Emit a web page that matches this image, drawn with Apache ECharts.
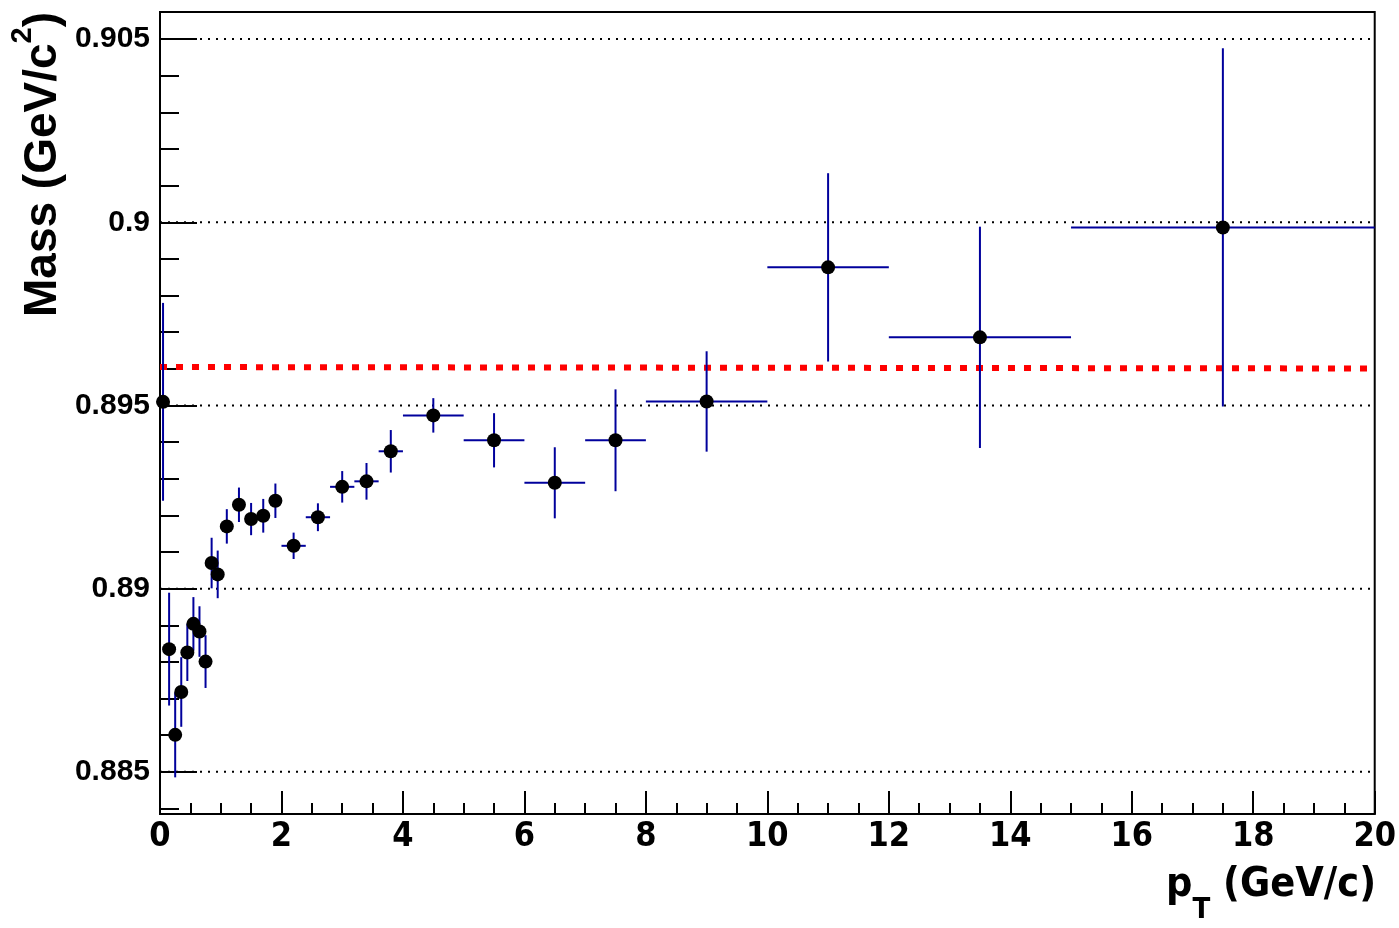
<!DOCTYPE html>
<html>
<head>
<meta charset="utf-8">
<script src="https://cdn.jsdelivr.net/npm/echarts@6/dist/echarts.min.js"></script>
<style>
html,body{margin:0;padding:0;background:#fff;}
#chart{width:1399px;height:928px;}
</style>
</head>
<body>
<div id="chart"></div>
<script>
// ---- data ----
const ptCenter = [0.05,0.15,0.25,0.35,0.45,0.55,0.65,0.75,0.85,0.95,1.1,1.3,1.5,1.7,1.9,2.2,2.6,3.0,3.4,3.8,4.5,5.5,6.5,7.5,9,11,13.5,17.5];
const binLow   = [0,0.1,0.2,0.3,0.4,0.5,0.6,0.7,0.8,0.9,1.0,1.2,1.4,1.6,1.8,2.0,2.4,2.8,3.2,3.6,4,5,6,7,8,10,12,15];
const binHigh  = [0.1,0.2,0.3,0.4,0.5,0.6,0.7,0.8,0.9,1.0,1.2,1.4,1.6,1.8,2.0,2.4,2.8,3.2,3.6,4.0,5,6,7,8,10,12,15,20];
const mass     = [0.8951,0.88835,0.88601,0.88718,0.88826,0.88904,0.88883,0.88801,0.89070,0.89039,0.89170,0.89229,0.89190,0.89199,0.89240,0.89117,0.89195,0.89278,0.89293,0.89375,0.89473,0.89405,0.89289,0.89405,0.89511,0.89877,0.89686,0.89986];
const massErr  = [0.0027,0.00154,0.00116,0.00095,0.00078,0.00073,0.00069,0.00072,0.00069,0.00065,0.00047,0.00047,0.00044,0.00046,0.00047,0.00036,0.00038,0.00043,0.00050,0.00058,0.00047,0.00074,0.00097,0.00139,0.00137,0.00257,0.00302,0.00489];
const refLine  = [[0,0.89605],[20,0.89601]];
const yMajorTicks = [0.885,0.89,0.895,0.9,0.905];
const yMinorTicks = [0.884,0.885,0.886,0.887,0.888,0.889,0.89,0.891,0.892,0.893,0.894,0.895,0.896,0.897,0.898,0.899,0.9,0.901,0.902,0.903,0.904,0.905];
const yMin = 0.88385, yMax = 0.90574;
const xMin = 0, xMax = 20, xStep = 2;

// ---- build ----
const errData = ptCenter.map((x,i)=>[x, mass[i], binLow[i], binHigh[i], mass[i]-massErr[i], mass[i]+massErr[i]]);
const ptData = ptCenter.map((x,i)=>[x, mass[i]]);
const gridData = yMajorTicks.map(v=>[xMin, v, xMax]);
const BLUE = '#00009c';
const NARROW = '"Liberation Sans Narrow","DejaVu Sans Condensed","Liberation Sans",Arial,sans-serif';

const chart = echarts.init(document.getElementById('chart'), null, {renderer:'canvas'});
const fmt = v => String(parseFloat(Number(v).toFixed(4)));

chart.setOption({
  animation:false,
  backgroundColor:'#ffffff',
  grid:{left:160,right:23,top:12,bottom:114,show:true,borderColor:'#000',borderWidth:2,backgroundColor:'transparent'},
  xAxis:{
    type:'value',min:xMin,max:xMax,interval:xStep,
    axisLine:{show:true,lineStyle:{color:'#000',width:2}},
    axisTick:{show:true,inside:true,length:23,lineStyle:{color:'#000',width:2}},
    minorTick:{show:true,splitNumber:4,length:11,lineStyle:{color:'#000',width:2}},
    splitLine:{show:false},
    axisLabel:{color:'#000',fontFamily:NARROW,fontWeight:'bold',fontSize:34,margin:6,formatter:v=>String(v)}
  },
  yAxis:[{
    type:'value',min:yMin,max:yMax,
    axisLine:{show:true,lineStyle:{color:'#000',width:2}},
    axisTick:{show:true,inside:true,length:37,customValues:yMajorTicks,lineStyle:{color:'#000',width:2}},
    splitLine:{show:false},
    axisLabel:{show:true,customValues:yMajorTicks,color:'#000',fontFamily:'"Liberation Sans",Arial,sans-serif',fontWeight:'bold',fontSize:30,margin:10,formatter:fmt}
  },{
    type:'value',min:yMin,max:yMax,position:'left',offset:0,
    axisLine:{show:false},
    axisTick:{show:true,inside:true,length:19,customValues:yMinorTicks,lineStyle:{color:'#000',width:2}},
    splitLine:{show:false},
    axisLabel:{show:false}
  }],
  series:[
    {
      type:'custom',data:gridData,z:1,silent:true,
      renderItem:function(params,api){
        const a = api.coord([api.value(0),api.value(1)]);
        const b = api.coord([api.value(2),api.value(1)]);
        return {type:'line',shape:{x1:a[0],y1:a[1],x2:b[0],y2:b[1]},
          style:{stroke:'#000',lineWidth:2,lineDash:[2,6]}};
      }
    },
    {
      type:'line',data:refLine,showSymbol:false,symbol:'none',z:2,silent:true,
      lineStyle:{color:'#ff0000',width:6,type:[7,9],cap:'butt'}
    },
    {
      type:'custom',data:errData,z:3,silent:true,
      renderItem:function(params,api){
        const c = api.coord([api.value(0),api.value(1)]);
        const l = api.coord([api.value(2),api.value(1)]);
        const r = api.coord([api.value(3),api.value(1)]);
        const lo = api.coord([api.value(0),api.value(4)]);
        const hi = api.coord([api.value(0),api.value(5)]);
        const st = {stroke:BLUE,lineWidth:2};
        return {type:'group',children:[
          {type:'line',shape:{x1:l[0],y1:c[1],x2:r[0],y2:c[1]},style:st},
          {type:'line',shape:{x1:c[0],y1:lo[1],x2:c[0],y2:hi[1]},style:st}
        ]};
      }
    },
    {
      type:'scatter',data:ptData,symbol:'circle',symbolSize:14,z:4,silent:true,
      itemStyle:{color:'#000',opacity:1}
    }
  ],
  graphic:[
    {
      type:'text',x:1376,y:925,z:10,
      style:{
        text:'{p|p}{t|T}{n| (GeV/c)}',
        align:'right',verticalAlign:'bottom',
        rich:{
          p:{fontFamily:NARROW,fontWeight:'bold',fontSize:41,fill:'#000',verticalAlign:'top',lineHeight:60},
          t:{fontFamily:NARROW,fontWeight:'bold',fontSize:29,fill:'#000',verticalAlign:'bottom',lineHeight:60},
          n:{fontFamily:NARROW,fontWeight:'bold',fontSize:41,fill:'#000',verticalAlign:'top',lineHeight:60}
        }
      }
    },
    {
      type:'text',x:66,y:317,rotation:Math.PI/2,z:10,
      style:{
        text:'{a|Mass (GeV/c}{s|2}{a|)}',
        align:'left',verticalAlign:'bottom',
        rich:{
          a:{fontFamily:'"Liberation Sans",Arial,sans-serif',fontWeight:'bold',fontSize:46,fill:'#000',verticalAlign:'bottom',lineHeight:58},
          s:{fontFamily:'"Liberation Sans",Arial,sans-serif',fontWeight:'bold',fontSize:29,fill:'#000',verticalAlign:'top',lineHeight:58}
        }
      }
    }
  ]
});
</script>
</body>
</html>
